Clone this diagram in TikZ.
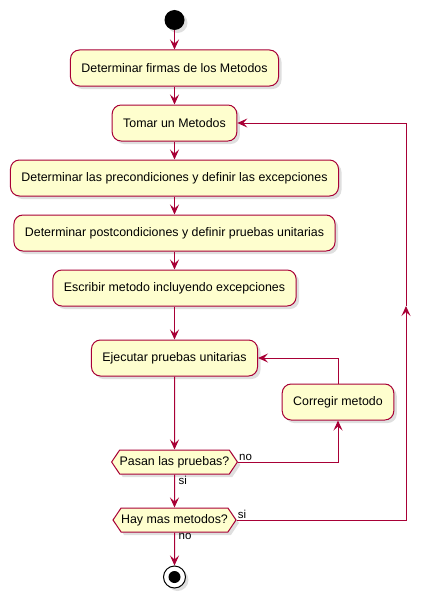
\documentclass[tikz,border=0pt]{standalone}
\usepackage{fontspec}
\setmainfont{Liberation Sans}
\usetikzlibrary{arrows.meta}
\usetikzlibrary{shapes.symbols}
\usetikzlibrary{shadows}

\definecolor{umlfill}{HTML}{FEFECE}
\definecolor{umlline}{HTML}{A80036}

\tikzset{
  act/.style={draw=umlline, fill=umlfill, line width=1pt, rounded corners=9pt,
    minimum height=36pt, inner xsep=11pt, font=\fontsize{12.4}{14}\selectfont,
    drop shadow={shadow xshift=3pt, shadow yshift=-3pt, opacity=0.25}},
  cond/.style={signal, signal to=west and east, signal pointer angle=112,
    draw=umlline, fill=umlfill, line width=1pt, minimum height=24pt,
    inner xsep=0pt, inner ysep=1pt, font=\fontsize{12.4}{14}\selectfont,
    drop shadow={shadow xshift=3pt, shadow yshift=-3pt, opacity=0.25}},
  flow/.style={draw=umlline, line width=1pt,
    -{Stealth[length=10pt,width=9pt,inset=4pt]}},
  guard/.style={font=\fontsize{11.5}{13}\selectfont, inner sep=1pt}
}

\begin{document}
\begin{tikzpicture}[x=1pt,y=-1pt]
  \useasboundingbox (0,0) rectangle (431,602);

  % start and activities
  \node (start) [circle, fill=black, minimum size=20pt, inner sep=0pt,
    drop shadow={shadow xshift=3pt, shadow yshift=-3pt, opacity=0.25}] at (174.5,20) {};
  \node (firmas) [act] at (174.5,68) {Determinar firmas de los Metodos};
  \node (tomar) [act] at (174.5,123) {Tomar un Metodos};
  \node (precond) [act] at (174.5,178) {Determinar las precondiciones y definir las excepciones};
  \node (postcond) [act] at (174.5,233) {Determinar postcondiciones y definir pruebas unitarias};
  \node (escribir) [act] at (174.5,288) {Escribir metodo incluyendo excepciones};
  \node (ejecutar) [act] at (174.5,358) {Ejecutar pruebas unitarias};
  \node (corregir) [act] at (338,402) {Corregir metodo};
  \node (pasan) [cond] at (174.5,462) {Pasan las pruebas?};
  \node (hay) [cond] at (174.5,520) {Hay mas metodos?};

  % stop
  \node (stop) [circle, draw=black, fill=white, line width=1pt, minimum size=22pt,
    inner sep=0pt, drop shadow={shadow xshift=3pt, shadow yshift=-3pt, opacity=0.25}] at (174.5,577) {};
  \node (stopdot) [circle, fill=black, minimum size=12pt, inner sep=0pt] at (stop) {};

  \coordinate (loopmid) at (406,306);

  \draw[flow] (start) -- (firmas);
  \draw[flow] (firmas) -- (tomar);
  \draw[flow] (tomar) -- (precond);
  \draw[flow] (precond) -- (postcond);
  \draw[flow] (postcond) -- (escribir);
  \draw[flow] (escribir) -- (ejecutar);
  \draw[flow] (ejecutar) -- (pasan);
  \draw[flow] (pasan) -- (hay);
  \draw[flow] (hay) -- (stop);
  \draw[flow] (pasan.east) -| (corregir.south);
  \draw[flow] (corregir.north) |- (ejecutar.east);
  \draw[flow] (hay.east) -| (loopmid);
  \draw[flow] (loopmid) |- (tomar.east);

  % guards
  \node (pasanno) [guard, anchor=south west] at (pasan.east) {no};
  \node (pasansi) [guard, anchor=north west] at ([xshift=3pt]pasan.south) {si};
  \node (haysi) [guard, anchor=south west] at (hay.east) {si};
  \node (hayno) [guard, anchor=north west] at ([xshift=3pt]hay.south) {no};
\end{tikzpicture}
\end{document}
